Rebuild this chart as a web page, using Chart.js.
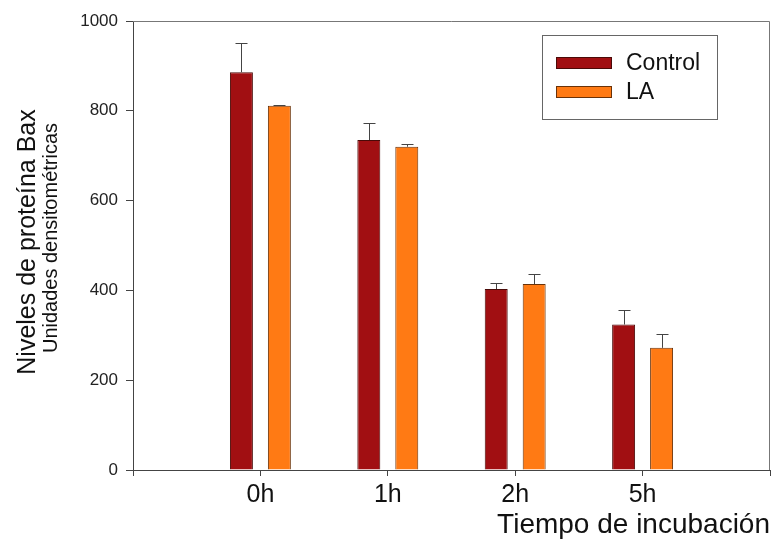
<!DOCTYPE html>
<html>
<head>
<meta charset="utf-8">
<title>Niveles de proteína Bax</title>
<script src="https://cdn.jsdelivr.net/npm/chart.js@4.4.1/dist/chart.umd.min.js"></script>
<style>
    html, body { margin: 0; padding: 0; background: #fff; }
    #wrap { width: 774px; height: 551px; }
</style>
</head>
<body>
<div id="wrap"><canvas id="baxChart" width="774" height="551"></canvas></div>
<script>
// Datos
const categories = ['0h', '1h', '2h', '5h'];
const controlValues = [886, 735, 403, 324];
const controlErrors = [64, 38, 14, 33];
const laValues = [811, 720, 414, 272];
const laErrors = [2, 6, 22, 30];
const yTicks = [0, 200, 400, 600, 800, 1000];

const FONT = "'Liberation Sans', Arial, sans-serif";

// Categorías vacías a cada lado, como en el original
const labels = [''].concat(categories, ['']);
function pad(arr) {
    return [null].concat(arr, [null]);
}
const errorsByDataset = [controlErrors, laErrors];

/**
 * Barras de error (solo hacia arriba)
 */
const errorBarsPlugin = {
    id: 'errorBars',
    afterDatasetsDraw(chart) {
        const ctx = chart.ctx;
        const yScale = chart.scales.y;
        ctx.save();
        ctx.strokeStyle = '#444';
        ctx.lineWidth = 1;
        chart.data.datasets.forEach(function(ds, d) {
            const meta = chart.getDatasetMeta(d);
            meta.data.forEach(function(bar, i) {
                const v = ds.data[i];
                if (v === null) return;
                const err = errorsByDataset[d][i - 1];
                const yTop = Math.round(yScale.getPixelForValue(v + err)) + 0.5;
                const x = Math.round(bar.x) + 0.5;
                ctx.beginPath();
                ctx.moveTo(x, bar.y);
                ctx.lineTo(x, yTop);
                ctx.moveTo(x - 6, yTop);
                ctx.lineTo(x + 6, yTop);
                ctx.stroke();
            });
        });
        ctx.restore();
    }
};

/**
 * Marco, títulos del eje Y y leyenda dentro del área
 */
const decorPlugin = {
    id: 'decor',
    afterDraw(chart) {
        const ctx = chart.ctx;
        const area = chart.chartArea;
        ctx.save();

        // marco superior y derecho
        ctx.strokeStyle = '#777';
        ctx.lineWidth = 1;
        ctx.beginPath();
        ctx.moveTo(area.left, Math.round(area.top) + 0.5);
        ctx.lineTo(Math.round(area.right) - 0.5, Math.round(area.top) + 0.5);
        ctx.lineTo(Math.round(area.right) - 0.5, area.bottom);
        ctx.stroke();

        // títulos del eje Y
        ctx.fillStyle = '#111';
        ctx.textAlign = 'center';
        ctx.textBaseline = 'alphabetic';
        ctx.save();
        ctx.translate(35, 242);
        ctx.rotate(-Math.PI / 2);
        ctx.font = '25px ' + FONT;
        ctx.fillText('Niveles de proteína Bax', 0, 0);
        ctx.restore();
        ctx.save();
        ctx.translate(57, 238);
        ctx.rotate(-Math.PI / 2);
        ctx.font = '20px ' + FONT;
        ctx.fillText('Unidades densitométricas', 0, 0);
        ctx.restore();

        // leyenda
        const bx = area.right - 228, by = area.top + 14;
        ctx.strokeStyle = '#666';
        ctx.strokeRect(bx + 0.5, by + 0.5, 175, 84);
        ctx.font = '23px ' + FONT;
        ctx.textAlign = 'left';
        ctx.textBaseline = 'alphabetic';
        chart.data.datasets.forEach(function(ds, d) {
            const sy = by + 22 + d * 29;
            ctx.fillStyle = ds.backgroundColor;
            ctx.fillRect(bx + 14, sy, 56, 12);
            ctx.strokeStyle = ds.borderColor;
            ctx.strokeRect(bx + 14.5, sy + 0.5, 55, 11);
            ctx.fillStyle = '#111';
            ctx.fillText(ds.label, bx + 84, sy + 13);
        });
        ctx.restore();
    }
};

const ctx = document.getElementById('baxChart').getContext('2d');

const baxChart = new Chart(ctx, {
    type: 'bar',
    data: {
        labels: labels,
        datasets: [
            {
                label: 'Control',
                data: pad(controlValues),
                backgroundColor: '#a10f12',
                borderColor: '#4a0a08',
                borderWidth: 1
            },
            {
                label: 'LA',
                data: pad(laValues),
                backgroundColor: '#ff7a14',
                borderColor: '#6a3208',
                borderWidth: 1
            }
        ]
    },
    options: {
        responsive: false,
        animation: false,
        categoryPercentage: 0.596,
        barPercentage: 0.605,
        layout: {
            padding: { top: 21, right: 3, left: 0, bottom: 0 }
        },
        scales: {
            x: {
                offset: false,
                grid: {
                    offset: false,
                    drawOnChartArea: false,
                    tickLength: 6,
                    color: '#444'
                },
                border: { color: '#444' },
                ticks: {
                    autoSkip: false,
                    maxRotation: 0,
                    padding: 4,
                    color: '#111',
                    font: { family: FONT, size: 25 }
                },
                title: {
                    display: true,
                    text: 'Tiempo de incubación',
                    align: 'end',
                    color: '#111',
                    font: { family: FONT, size: 28, lineHeight: 1 },
                    padding: { top: 0, bottom: 12 }
                },
                afterFit: function(scale) {
                    scale.height = 81;
                }
            },
            y: {
                min: 0,
                max: 1000,
                afterBuildTicks: function(scale) {
                    scale.ticks = yTicks.map(function(v) { return { value: v }; });
                },
                grid: {
                    drawOnChartArea: false,
                    tickLength: 7,
                    color: '#444'
                },
                border: { color: '#444' },
                ticks: {
                    padding: 8,
                    color: '#222',
                    font: { family: FONT, size: 17 },
                    callback: function(value) {
                        return String(value);
                    }
                },
                afterFit: function(scale) {
                    scale.width = 133;
                }
            }
        },
        plugins: {
            legend: { display: false },
            tooltip: { enabled: false }
        }
    },
    plugins: [errorBarsPlugin, decorPlugin]
});
</script>
</body>
</html>
